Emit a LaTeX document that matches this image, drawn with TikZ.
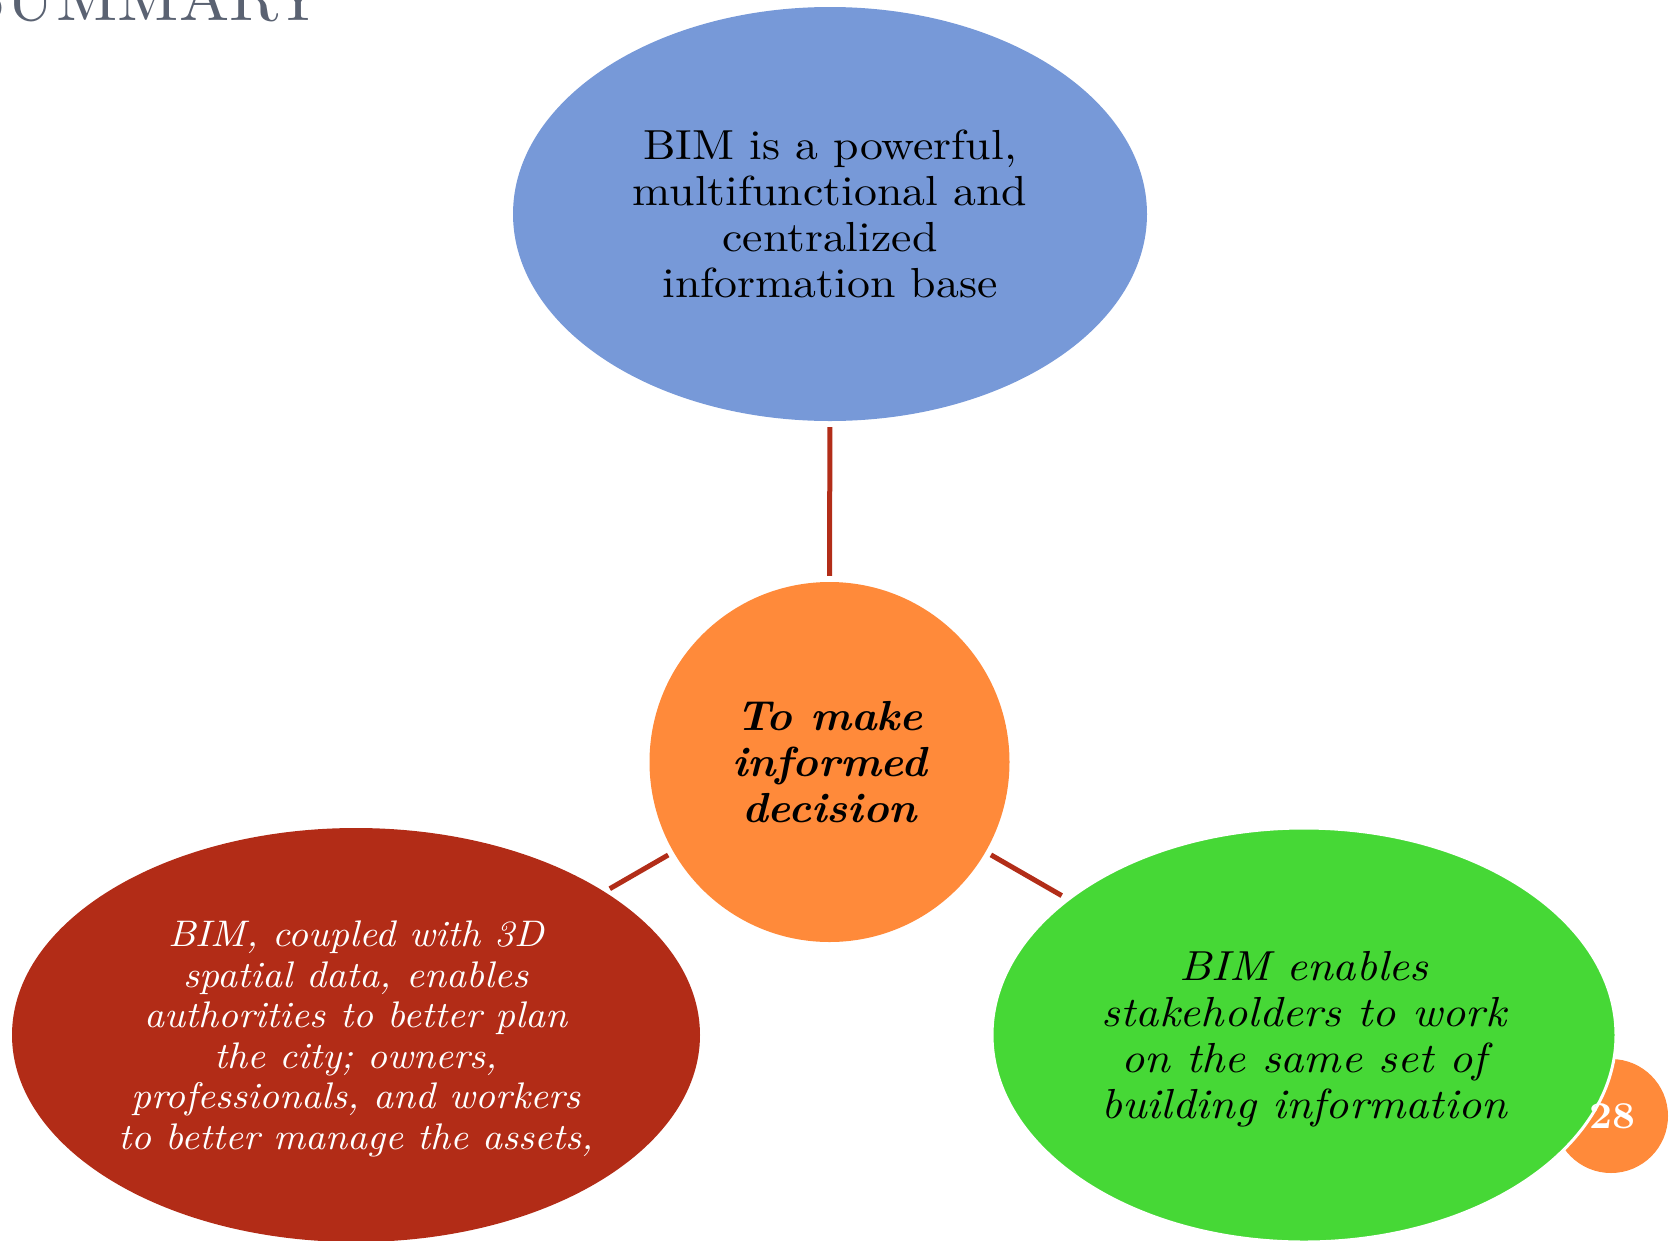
\documentclass[tikz,border=0pt]{standalone}
\usepackage{fontspec}
\usetikzlibrary{shapes.geometric}
\newfontfamily\rmwide{lmroman10-regular.otf}[FakeStretch=1.09]
\newfontfamily\itwide{lmroman10-italic.otf}[FakeStretch=1.085]
\newfontfamily\itwidesm{lmroman10-italic.otf}[FakeStretch=1.058]
\newfontfamily\bfitwide{lmroman10-bolditalic.otf}[FakeStretch=1.03]
\newfontfamily\bfwide{lmroman10-bold.otf}[FakeStretch=1.05]
\newfontfamily\titlefont{lmroman10-regular.otf}[FakeStretch=1.015]
\definecolor{topblue}{HTML}{7799D8}
\definecolor{midorange}{HTML}{FF8A3A}
\definecolor{leftred}{HTML}{B22C17}
\definecolor{rightgreen}{HTML}{46D836}
\definecolor{connred}{HTML}{B22D18}
\definecolor{titlegray}{HTML}{5A6272}
\tikzset{
  conn/.style={draw=connred, line width=5pt, shorten <=6pt, shorten >=6pt},
  txt/.style={align=center, inner sep=0pt}
}
\begin{document}
\begin{tikzpicture}[x=1pt,y=-1pt]
\useasboundingbox (0,0) rectangle (1673,1240);
\clip (0,0) rectangle (1673,1240);
% title
\node[anchor=base east, inner sep=0pt, text=titlegray, font=\titlefont\fontsize{66}{70}\selectfont] (title) at (323.5,20) {SUMMARY};
% shapes
\node[ellipse, fill=topblue, inner sep=0pt, minimum width=634pt, minimum height=414pt] (top) at (830,214) {};
\node[circle, fill=midorange, inner sep=0pt, minimum size=360pt] (mid) at (829.5,762) {};
\node[ellipse, fill=leftred, inner sep=0pt, minimum width=688pt, minimum height=414pt] (left) at (356,1035) {};
\node[circle, fill=midorange, inner sep=0pt, minimum size=114pt] (page) at (1611,1116) {};
\node[ellipse, fill=rightgreen, draw=white, line width=3pt, inner sep=0pt, minimum width=624pt, minimum height=414pt] (right) at (1304,1035) {};
% connectors
\draw[conn] (top) -- (mid);
\draw[conn] (mid) -- (left);
\draw[conn] (mid) -- (right);
% texts
\node[txt, font=\rmwide\fontsize{42}{46}\selectfont] (toptext) at (830,214) {BIM is a powerful,\\multifunctional and\\centralized\\information base};
\node[txt, font=\bfitwide\fontsize{42}{46.4}\selectfont] (midtext) at (829.5,762) {To make\\informed\\decision};
\node[txt, text=white, font=\itwidesm\fontsize{37}{40.5}\selectfont] (lefttext) at (356,1039) {BIM, coupled with 3D\\spatial data, enables\\authorities to better plan\\the city; owners,\\professionals, and workers\\to better manage the assets,};
\node[txt, font=\itwide\fontsize{42}{46}\selectfont] (righttext) at (1304,1039) {BIM enables\\stakeholders to work\\on the same set of\\building information};
\node[txt, text=white, font=\bfwide\fontsize{38}{40}\selectfont] (pagenum) at (1612,1116) {28};
\end{tikzpicture}
\end{document}
